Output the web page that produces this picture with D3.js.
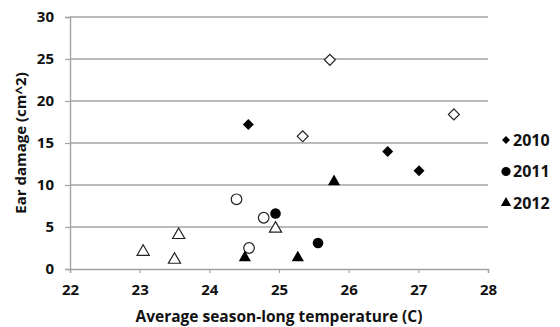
<!DOCTYPE html>
<html>
<head>
<meta charset="utf-8">
<script src="https://cdn.jsdelivr.net/npm/d3@7"></script>
<style>
  body { margin: 0; background: #fff; }
  svg { display: block; }
  text { font-family: "Open Sans", sans-serif; font-weight: bold; fill: #111; }
</style>
</head>
<body>
<script>
// values
const xTicks = [22, 23, 24, 25, 26, 27, 28];
const yTicks = [0, 5, 10, 15, 20, 25, 30];
const years = ['2010', '2011', '2012'];

const temp2010 = [24.56, 26.56, 27.01];
const dmg2010 = [17.2, 14.0, 11.7];
const temp2010Open = [25.73, 25.34, 27.51];
const dmg2010Open = [24.9, 15.8, 18.4];

const temp2011 = [24.95, 25.56];
const dmg2011 = [6.6, 3.1];
const temp2011Open = [24.39, 24.78, 24.57];
const dmg2011Open = [8.3, 6.1, 2.5];

const temp2012 = [24.51, 25.27, 25.79];
const dmg2012 = [1.35, 1.35, 10.4];
const temp2012Open = [23.05, 23.5, 23.56, 24.95];
const dmg2012Open = [2.05, 1.1, 4.05, 4.8];

const width = 560, height = 327;
const margin = {top: 17, right: 72, bottom: 58, left: 70};
const innerWidth = width - margin.left - margin.right;
const innerHeight = height - margin.top - margin.bottom;

const svg = d3.select('body').append('svg')
  .attr('width', width).attr('height', height);
const g = svg.append('g').attr('transform', `translate(${margin.left},${margin.top})`);

const x = d3.scaleLinear().domain([22, 28]).range([0, innerWidth]);
const y = d3.scaleLinear().domain([0, 30]).range([innerHeight, 0]);

// gridlines
g.append('g').selectAll('line')
  .data(yTicks.slice(1))
  .enter().append('line')
  .attr('x1', 0).attr('x2', innerWidth)
  .attr('y1', d => y(d)).attr('y2', d => y(d))
  .attr('stroke', '#a3a3a3').attr('stroke-width', 1.4);

const yAxis = g.append('g')
  .call(d3.axisLeft(y).tickValues(yTicks).tickFormat(d3.format('d')).tickSize(5).tickPadding(11));
const xAxis = g.append('g')
  .attr('transform', `translate(0,${innerHeight})`)
  .call(d3.axisBottom(x).tickValues(xTicks).tickFormat(d3.format('d')).tickSize(4).tickPadding(11));

[yAxis, xAxis].forEach(a => {
  a.attr('font-family', '"Open Sans", sans-serif').attr('font-size', 15).attr('font-weight', 'bold');
  a.selectAll('.domain').attr('stroke', '#a3a3a3').attr('stroke-width', 1.4);
  a.selectAll('.tick line').attr('stroke', '#a3a3a3').attr('stroke-width', 1.2);
  a.selectAll('.tick text').attr('fill', '#111');
});

const shapes = {
  '2010': d3.symbol().type(d3.symbolSquare),
  '2011': d3.symbol().type(d3.symbolCircle),
  '2012': d3.symbol().type(d3.symbolTriangle)
};
const sizes = {'2010': 60, '2011': 88, '2012': 64};
const rot = {'2010': 45, '2011': 0, '2012': 0};

const series = [
  {year: '2010', xs: temp2010Open, ys: dmg2010Open, filled: false},
  {year: '2011', xs: temp2011Open, ys: dmg2011Open, filled: false},
  {year: '2012', xs: temp2012Open, ys: dmg2012Open, filled: false},
  {year: '2010', xs: temp2010, ys: dmg2010, filled: true},
  {year: '2011', xs: temp2011, ys: dmg2011, filled: true},
  {year: '2012', xs: temp2012, ys: dmg2012, filled: true}
];

series.forEach(s => {
  g.append('g').selectAll('path')
    .data(s.xs.map((v, i) => [v, s.ys[i]]))
    .enter().append('path')
    .attr('d', shapes[s.year].size(sizes[s.year]))
    .attr('transform', d => `translate(${x(d[0])},${y(d[1])}) rotate(${rot[s.year]})`)
    .attr('fill', s.filled ? '#000' : '#fff')
    .attr('stroke', s.filled ? 'none' : '#222')
    .attr('stroke-width', 1.2);
});

// legend
const legSizes = {'2010': 32, '2011': 66, '2012': 46};
const leg = svg.append('g')
  .selectAll('g').data(years).enter().append('g')
  .attr('transform', (d, i) => `translate(506,${140 + i * 31.5})`);
leg.append('path')
  .attr('d', d => shapes[d].size(legSizes[d])())
  .attr('transform', d => `rotate(${rot[d]})`)
  .attr('fill', '#000');
leg.append('text')
  .attr('x', 7).attr('dy', '0.35em')
  .attr('font-size', 16)
  .text(d => d);

// axis titles
svg.append('text')
  .attr('x', 279).attr('y', 322)
  .attr('text-anchor', 'middle').attr('font-size', 15.5)
  .text('Average season-long temperature (C)');
svg.append('text')
  .attr('transform', 'translate(26,143) rotate(-90)')
  .attr('text-anchor', 'middle').attr('font-size', 15)
  .text('Ear damage (cm^2)');
</script>
</body>
</html>
